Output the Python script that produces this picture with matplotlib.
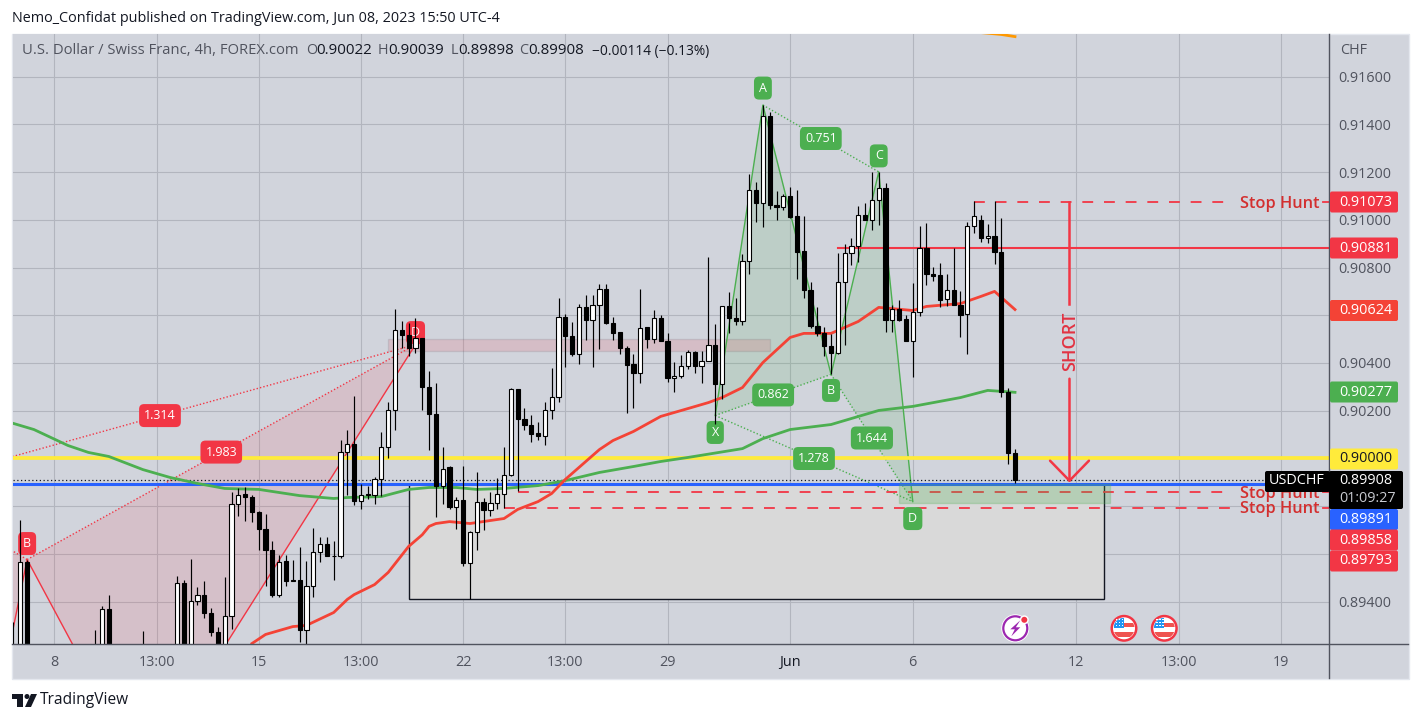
import matplotlib
matplotlib.use('Agg')
import matplotlib.pyplot as plt
import numpy as np
from matplotlib.lines import Line2D
from matplotlib.patches import Circle, FancyBboxPatch, Polygon, Rectangle
from matplotlib.transforms import IdentityTransform

plt.rcParams['font.family'] = 'Open Sans'

W, H = 1420, 722

# candles, 4h bars counted from the first visible one (off-chart values are estimates)
bar_index = [-1, 0, 1, 11, 12, 13, 18] + list(range(23, 147))
opens = [.8918, .8915, .89564, .8918, .8915, .89367, .8918,
         .8915, .89476, .8915, .89403, .89429, .89354, .89274, .8915, .89338, .89808,
         .89849, .8984, .89776, .89706, .89618, .89427, .89568, .89492, .89492, .8928,
         .89466, .89608, .89642, .89592, .8959, .90028, .90062, .89822, .89849, .89847,
         .89914, .90049, .90204, .90539, .90519, .90462, .90506, .903, .90188, .89883,
         .89965, .89795, .89826, .89561, .89692, .89818, .89783, .89814, .89852, .89931,
         .90293, .90166, .90141, .90107, .90093, .90204, .90258, .90594, .90514, .90437,
         .90636, .90579, .90641, .90712, .90568, .90528, .90464, .90394, .90357, .90549,
         .905, .90589, .90493, .90338, .90346, .90388, .90447, .90388, .90407, .90476,
         .90311, .9064, .90589, .90575, .90827, .91126, .9107, .91436, .91064, .91053,
         .91101, .91014, .9087, .90707, .90556, .90527, .90472, .9044, .9074, .90862,
         .90892, .91021, .90999, .91084, .91134, .90579, .90628, .90586, .90491, .90615,
         .90883, .90775, .90767, .90667, .90707, .90645, .90604, .90975, .91, .90923,
         .90934, .90866, .90279, .90022]
highs = [.89316, .89741, .89573, .8928, .8938, .89429, .89276,
         .89505, .89492, .8958, .89463, .89484, .89375, .89295, .89501, .89861, .89878,
         .89881, .89846, .89779, .89769, .89652, .89597, .89594, .89573, .89628, .89569,
         .8971, .8967, .8967, .89652, .90079, .90121, .90261, .89891, .89883, .89921,
         .90112, .90236, .90628, .90578, .90568, .90589, .90506, .90368, .90317, .90049,
         .89967, .89839, .8997, .89694, .89942, .89832, .89861, .89916, .90049, .90296,
         .90293, .90213, .9018, .90153, .90236, .90377, .90673, .90607, .9057, .90648,
         .90687, .90687, .90729, .90729, .90594, .90528, .9047, .90438, .90708, .9055,
         .90624, .90603, .90527, .90402, .90433, .90454, .90452, .90452, .90845, .90564,
         .90638, .90698, .90673, .90858, .91194, .9116, .91481, .91453, .9112, .91109,
         .91137, .91123, .91018, .9074, .90636, .90552, .90522, .90862, .90897, .90922,
         .91057, .91069, .912, .91201, .91155, .90641, .90666, .90603, .90736, .90973,
         .90985, .90802, .9082, .90775, .9088, .90701, .90992, .91078, .91021, .90983,
         .91078, .91009, .90296, .90039]
lows = [.8915, .8912, .8912, .8915, .8912, .8912, .8915,
        .8912, .8912, .8912, .89385, .89333, .89255, .8912, .8912, .89283, .89758,
        .89737, .89733, .89615, .89464, .8942, .8942, .89467, .89485, .8923, .892,
        .89417, .89564, .8959, .89492, .89582, .89846, .89803, .89786, .89831, .89808,
        .89842, .9, .90121, .90464, .90428, .90443, .90202, .90037, .89754, .89807,
        .89789, .89702, .89548, .89411, .89615, .89699, .89758, .89786, .89794, .89925,
        .89863, .90118, .90068, .90076, .90055, .90167, .90236, .90382, .90428, .90395,
        .90498, .90382, .90457, .90565, .90498, .90436, .90191, .9021, .90314, .90464,
        .90485, .90491, .90319, .90278, .90338, .90373, .90359, .90317, .90407, .90145,
        .90247, .90527, .90561, .90561, .90771, .9099, .90969, .91046, .90999, .91043,
        .91006, .90754, .90673, .90547, .90512, .90428, .90352, .90436, .90477, .90809,
        .90822, .90999, .90957, .90978, .90529, .90531, .90575, .90491, .90342, .90596,
        .90726, .90743, .90636, .90638, .90642, .90508, .90436, .90943, .90909, .90901,
        .90814, .90257, .89976, .89898]
closes = [.8920, .89564, .8915, .8920, .89367, .8915, .8920,
          .89476, .8915, .89401, .89428, .89354, .89271, .8915, .89338, .89808, .89847,
          .89837, .89774, .89703, .89615, .89427, .89567, .89485, .89485, .8928, .89466,
          .89608, .89642, .8959, .8959, .90028, .90061, .89821, .89847, .89845, .89914,
          .90049, .90204, .90539, .90516, .90462, .90506, .90298, .90185, .89883, .89956,
          .89795, .89826, .89561, .89692, .89818, .89783, .89814, .89852, .89931, .90292,
          .90164, .90139, .90104, .90093, .90204, .90258, .90594, .90512, .90437, .90636,
          .90579, .90641, .90712, .90567, .90525, .90461, .90391, .90357, .90547, .905,
          .90589, .90491, .90336, .90346, .90388, .90447, .90387, .90407, .90476, .90311,
          .90638, .90588, .90575, .90827, .91126, .9107, .91436, .91061, .91053, .91101,
          .9101, .90867, .90705, .90553, .90524, .9047, .9044, .9074, .90862, .90892,
          .91021, .90999, .91084, .91134, .90579, .90627, .90582, .90491, .90615, .90883,
          .90772, .90764, .90666, .90707, .90642, .90603, .90975, .91017, .90923, .90933,
          .90864, .90278, .90022, .89908]

# moving averages, read every few bars
red_ma_x = [34, 36, 40, 42, 46, 48, 49, 52, 54, 57, 59, 60, 61, 63, 66, 71, 73, 76, 78, 80, 85, 87, 90, 94,
            98, 101, 103, 106, 109, 113, 115, 119, 123, 126, 131, 133, 138, 141, 143, 146]
red_ma = [.89224, .89262, .89295, .893, .89354, .89409, .89429, .89471, .89522, .89631, .89680, .89715,
          .89727, .89735, .89727, .89748, .89786, .89819, .89853, .89912, .90037, .90075, .90113, .90176,
          .90209, .90234, .90255, .90297, .90402, .90507, .90524, .90524, .90574, .90633, .9062,
          .90637, .90649, .90679, .907, .90624]
green_ma_x = [-2, 2, 7, 10, 13, 18, 22, 26, 30, 35, 41, 46, 48, 53, 57, 60, 64, 67, 71, 76, 80, 85,
              90, 94, 98, 106, 109, 113, 119, 126, 131, 138, 142, 146]
green_ma = [.90155, .90121, .90054, .90025, .90008, .89953, .8992, .89895, .89874, .8987, .89844,
            .89832, .89836, .8984, .8987, .89878, .89878, .8987, .89874, .89886, .89907, .89941,
            .89966, .89987, .90004, .90041, .90083, .90121, .90142, .90201, .90218, .90255, .90285,
            .90277]
orange_ma_x = [141, 144, 146]
orange_ma = [.91785, .91777, .91768]

# harmonic patterns: x, a, b, c, d
red_xabcd_x = [-17, -2, 1, 18, 58]
red_xabcd = [.89882, .89152, .89576, .88671, .90477]
green_xabcd_x = [102, 109, 119, 126, 131]
green_xabcd = [.9018, .91481, .90352, .91201, .89819]
red_ratios = ['1.314', '1.983']
green_ratios = ['0.751', '0.862', '1.644', '1.278']

# levels
round_level = .9
blue_level = .89891
last_price = .89908
resistance = .90881
stop_hunts = [.91073, .89858, .89793]
stop_hunt_starts = [140, 73, 71]

tick_pos = [5, 20, 35, 50, 65, 80, 95, 113, 131, 155, 170, 185]
tick_labels = ['8', '13:00', '15', '13:00', '22', '13:00', '29', 'Jun', '6', '12', '13:00', '19']
price_ticks = [.894, .896, .898, .9, .902, .904, .906, .908, .91, .912, .914, .916]
hidden_ticks = [.896, .898, .9, .906]

BG = '#d1d4dc'
GRID = '#b2b5be'
RED = '#f23645'
GREEN = '#4caf50'
AXIS = '#50535e'

fig = plt.figure(figsize=(W / 100, H / 100), dpi=100, facecolor='white')
ax = fig.add_axes([12.5 / W, (H - 644) / H, (1329 - 12.5) / W, 610 / H])
ax.set_facecolor(BG)
ax.set_xlim(-1.145, 192.09)
ax.set_ylim(.89222, .91779)
for s in ax.spines.values():
    s.set_visible(False)


def fig_text(x, y, s, **kw):
    kw.setdefault('va', 'center')
    return fig.text(x / W, 1 - y / H, s, **kw)


def pix(artist):
    artist.set_transform(IdentityTransform())
    fig.add_artist(artist)
    return artist


def data_y(price):
    # pixel row, counted from the top, of a price
    return H - ax.transData.transform((0, price))[1]


# panel behind everything
pix(Rectangle((11.5, H - 678.5), 1397, 645, fc=BG, ec='#e4e7ee', lw=1, zorder=-5))

ax.set_axisbelow(True)
ax.grid(True, color=GRID, lw=.8)
ax.set_xticks(tick_pos)
ax.set_xticklabels(tick_labels, fontsize=10.4, color=AXIS)
ax.get_xticklabels()[7].set_color('#131722')
ax.yaxis.tick_right()
ax.set_yticks(price_ticks)
ax.set_yticklabels(['' if p in hidden_ticks else '%.5f' % p for p in price_ticks], fontsize=10.4, color=AXIS)
ax.tick_params(axis='x', length=0, pad=8)
ax.tick_params(axis='y', length=0, pad=7)

# boxes under the candles
ax.add_patch(Rectangle((57, .89411), 102, blue_level - .89411, fc='#d9d9d9', ec='#131722', lw=1, zorder=1))
ax.add_patch(Rectangle((54, .90449), 56, .90500 - .90449, fc=RED, alpha=.14, ec=AXIS, lw=1, zorder=1.2))


def draw_pattern(xs, ys, color, alpha):
    ax.fill(xs[:3], ys[:3], color=color, alpha=alpha, lw=0, zorder=1.1)
    ax.fill(xs[2:], ys[2:], color=color, alpha=alpha, lw=0, zorder=1.1)
    ax.plot(xs, ys, color=color, lw=1, zorder=1.5)
    for i, j in [(0, 2), (1, 3), (2, 4), (0, 4)]:
        ax.plot([xs[i], xs[j]], [ys[i], ys[j]], color=color, lw=1, ls=(0, (1, 1.5)), zorder=1.5)


draw_pattern(red_xabcd_x, red_xabcd, RED, .12)
draw_pattern(green_xabcd_x, green_xabcd, GREEN, .15)

# level lines
ax.axhline(round_level, color='#ffeb3b', lw=2.7, zorder=2)
ax.axhline(blue_level, color='#2962ff', lw=2.2, zorder=2)
ax.axhline(last_price, color='#131722', lw=.9, ls=(0, (1, 2)), zorder=2.1)
ax.plot([120, 192.09], [resistance, resistance], color=RED, lw=1.5, zorder=2)
for level, start in zip(stop_hunts, stop_hunt_starts):
    ax.plot([start, 177.8], [level, level], color=RED, lw=1.3, ls=(0, (6, 6)), zorder=2)
    ax.plot([191.2, 192.09], [level, level], color=RED, lw=1.3, zorder=2)
    fig_text(1280, data_y(level) + 1.5, 'Stop Hunt', ha='center', fontsize=11.8, color='#d32f2f', fontweight='semibold', zorder=4)

ax.add_patch(Rectangle((129, .89814), 31, .89894 - .89814, fc=GREEN, alpha=.25, ec=GREEN, lw=1, zorder=2.2))

# moving averages
ax.plot(green_ma_x, green_ma, color=GREEN, lw=2, zorder=2.5)
ax.plot(red_ma_x, red_ma, color='#f44336', lw=2, zorder=2.5)
ax.plot(orange_ma_x, orange_ma, color='#ff9800', lw=2, zorder=2.5)

# candles
opens_arr, closes_arr = np.array(opens), np.array(closes)
up = closes_arr >= opens_arr
ax.vlines(bar_index, lows, highs, color='black', lw=.85, zorder=3)
ax.bar(bar_index, np.abs(closes_arr - opens_arr), bottom=np.minimum(opens_arr, closes_arr), width=.62,
       color=np.where(up, 'white', 'black'), edgecolor='black', lw=.8, zorder=3.1)


def ratio_badge(xs, ys, i, j, s, color):
    ax.text((xs[i] + xs[j]) / 2, (ys[i] + ys[j]) / 2, s, color='white', fontsize=9, ha='center', va='center',
            zorder=2.8, bbox=dict(boxstyle='round,pad=.4,rounding_size=.4', fc=color, ec='none'))


def letter_badge(x, y, s, color, dy):
    ax.annotate(s, (x, y), xytext=(0, dy * .72), textcoords='offset points', color='white', fontsize=9, ha='center',
                va='center', zorder=2.8, bbox=dict(boxstyle='round,pad=.4,rounding_size=.4', fc=color, ec='none'))


ratio_badge(red_xabcd_x, red_xabcd, 0, 4, red_ratios[0], RED)
ratio_badge(red_xabcd_x, red_xabcd, 2, 4, red_ratios[1], RED)
ratio_badge(green_xabcd_x, green_xabcd, 1, 3, green_ratios[0], GREEN)
ratio_badge(green_xabcd_x, green_xabcd, 0, 2, green_ratios[1], GREEN)
ratio_badge(green_xabcd_x, green_xabcd, 2, 4, green_ratios[2], GREEN)
ratio_badge(green_xabcd_x, green_xabcd, 0, 4, green_ratios[3], GREEN)
for k, off in zip(range(5), [-17, 17, -16, 16, -17]):
    letter_badge(green_xabcd_x[k], green_xabcd[k], 'XABCD'[k], GREEN, off)
letter_badge(red_xabcd_x[2], red_xabcd[2], 'B', RED, 16)
letter_badge(red_xabcd_x[4], red_xabcd[4], 'D', RED, 12)

# SHORT arrow
short_x = 154
ax.plot([short_x, short_x], [stop_hunts[0], .90648], color=RED, lw=1.8, zorder=4)
ax.annotate('', xy=(short_x, .89899), xytext=(short_x, .90334), zorder=4,
            arrowprops=dict(arrowstyle='->,head_length=.72,head_width=.7', color=RED, lw=1.8, mutation_scale=20,
                            shrinkA=0, shrinkB=0))
ax.text(short_x + .1, .9049, 'SHORT', rotation=90, color='#e23343', fontsize=13, fontweight='semibold', ha='center', va='center', zorder=4)

# axis separators
pix(Line2D([1329, 1329], [H - 34, H - 678], color=AXIS, lw=1, zorder=3))
pix(Line2D([12, 1408], [H - 644, H - 644], color=AXIS, lw=1, zorder=3))
fig_text(1354, 50, 'CHF', ha='center', fontsize=10.4, color=AXIS)


def price_tag(y, s, bg, fg='white'):
    pix(FancyBboxPatch((1330, H - y - 10.5), 68, 21, boxstyle='round,pad=0,rounding_size=2', fc=bg, ec='none', zorder=5))
    fig_text(1365.5, y, s, ha='center', fontsize=10.4, color=fg, zorder=6)


price_tag(202, '%.5f' % stop_hunts[0], RED)
price_tag(248, '%.5f' % resistance, RED)
price_tag(310.5, '0.90624', '#f44336')
price_tag(392, '0.90277', GREEN)
price_tag(459, '%.5f' % round_level, '#ffeb3b', '#131722')
price_tag(519.5, '%.5f' % blue_level, '#2962ff')
price_tag(540, '%.5f' % stop_hunts[1], RED)
price_tag(561, '%.5f' % stop_hunts[2], RED)

# last price block
pix(FancyBboxPatch((1265, H - 492), 65, 21, boxstyle='round,pad=0,rounding_size=2', fc='black', ec='none', zorder=5))
pix(FancyBboxPatch((1329, H - 509), 74, 38, boxstyle='round,pad=0,rounding_size=2', fc='black', ec='none', zorder=5))
fig_text(1297, 481, 'USDCHF', ha='center', fontsize=10.4, color='white', zorder=6)
fig_text(1365.5, 481, '%.5f' % last_price, ha='center', fontsize=10.4, color='white', zorder=6)
fig_text(1368, 498, '01:09:27', ha='center', fontsize=10.4, color='#c9cbd1', zorder=6)

# header texts
fig_text(12, 18, 'Nemo_Confidat published on TradingView.com, Jun 08, 2023 15:50 UTC-4', fontsize=10.4, color='#131722')
fig_text(22, 51, 'U.S. Dollar / Swiss Franc, 4h, FOREX.com', fontsize=10.6, color=AXIS)
for x_lab, lab, x_val, val in [(306, 'O', 316, '0.90022'), (378, 'H', 388, '0.90039'),
                               (451, 'L', 458, '0.89898'), (519, 'C', 528, '0.89908')]:
    fig_text(x_lab, 51, lab, fontsize=10.4, color=AXIS)
    fig_text(x_val, 51, val, fontsize=10.8, color='#131722')
fig_text(592, 51, '\u22120.00114 (\u22120.13%)', fontsize=9.9, color='#131722')

# TradingView logo
pix(Polygon([(12, H - 694), (23, H - 694), (23, H - 707), (17, H - 707), (17, H - 699), (12, H - 699)], fc='#131722', ec='none'))
pix(Circle((27, H - 696.5), 2.5, fc='#131722', ec='none'))
pix(Polygon([(31, H - 694), (37, H - 694), (31, H - 707), (25, H - 707)], fc='#131722', ec='none'))
fig_text(40, 700.5, 'TradingView', fontsize=11.2, color='#131722', fontweight='medium')

# event icons on the bottom of the chart
for cx in [1124, 1164.3]:
    cy = H - 628.3
    pix(Circle((cx, cy), 13.5, fc=RED, ec='none', zorder=4))
    pix(Circle((cx, cy), 11, fc='white', ec='none', zorder=4.1))
    for rect, col in [((-10, 0, 10, 10), '#2196f3'), ((0, 1, 11, 4), '#ef5350'), ((-11, -9, 22, 5), '#ef5350')]:
        r = pix(Rectangle((cx + rect[0], cy + rect[1]), rect[2], rect[3], fc=col, ec='none', zorder=4.2))
        r.set_clip_path(Circle((cx, cy), 10.5, transform=IdentityTransform()))
    for dx in [-8, -5, -2]:
        for dy in [2, 5, 8]:
            pix(Rectangle((cx + dx, cy + dy), 1.3, 1.3, fc='white', ec='none', zorder=4.3))

cx, cy = 1015.3, H - 628.3
pix(Circle((cx, cy), 14, fc='white', ec='none', zorder=4))
pix(Circle((cx, cy), 12, fc='none', ec='#9c27b0', lw=1.6, zorder=4.1))
pix(Polygon([(cx + 5, cy + 8), (cx - 5, cy - 1), (cx - 0.5, cy - 1), (cx - 4, cy - 8), (cx + 5, cy + 1), (cx + 0.5, cy + 1)],
            fc='#9c27b0', ec='none', zorder=4.2))
pix(Circle((cx + 9, cy + 8.5), 4.5, fc='white', ec='none', zorder=4.3))
pix(Circle((cx + 9, cy + 8.5), 3, fc=RED, ec='none', zorder=4.4))

fig.savefig('out.png', dpi=100)
